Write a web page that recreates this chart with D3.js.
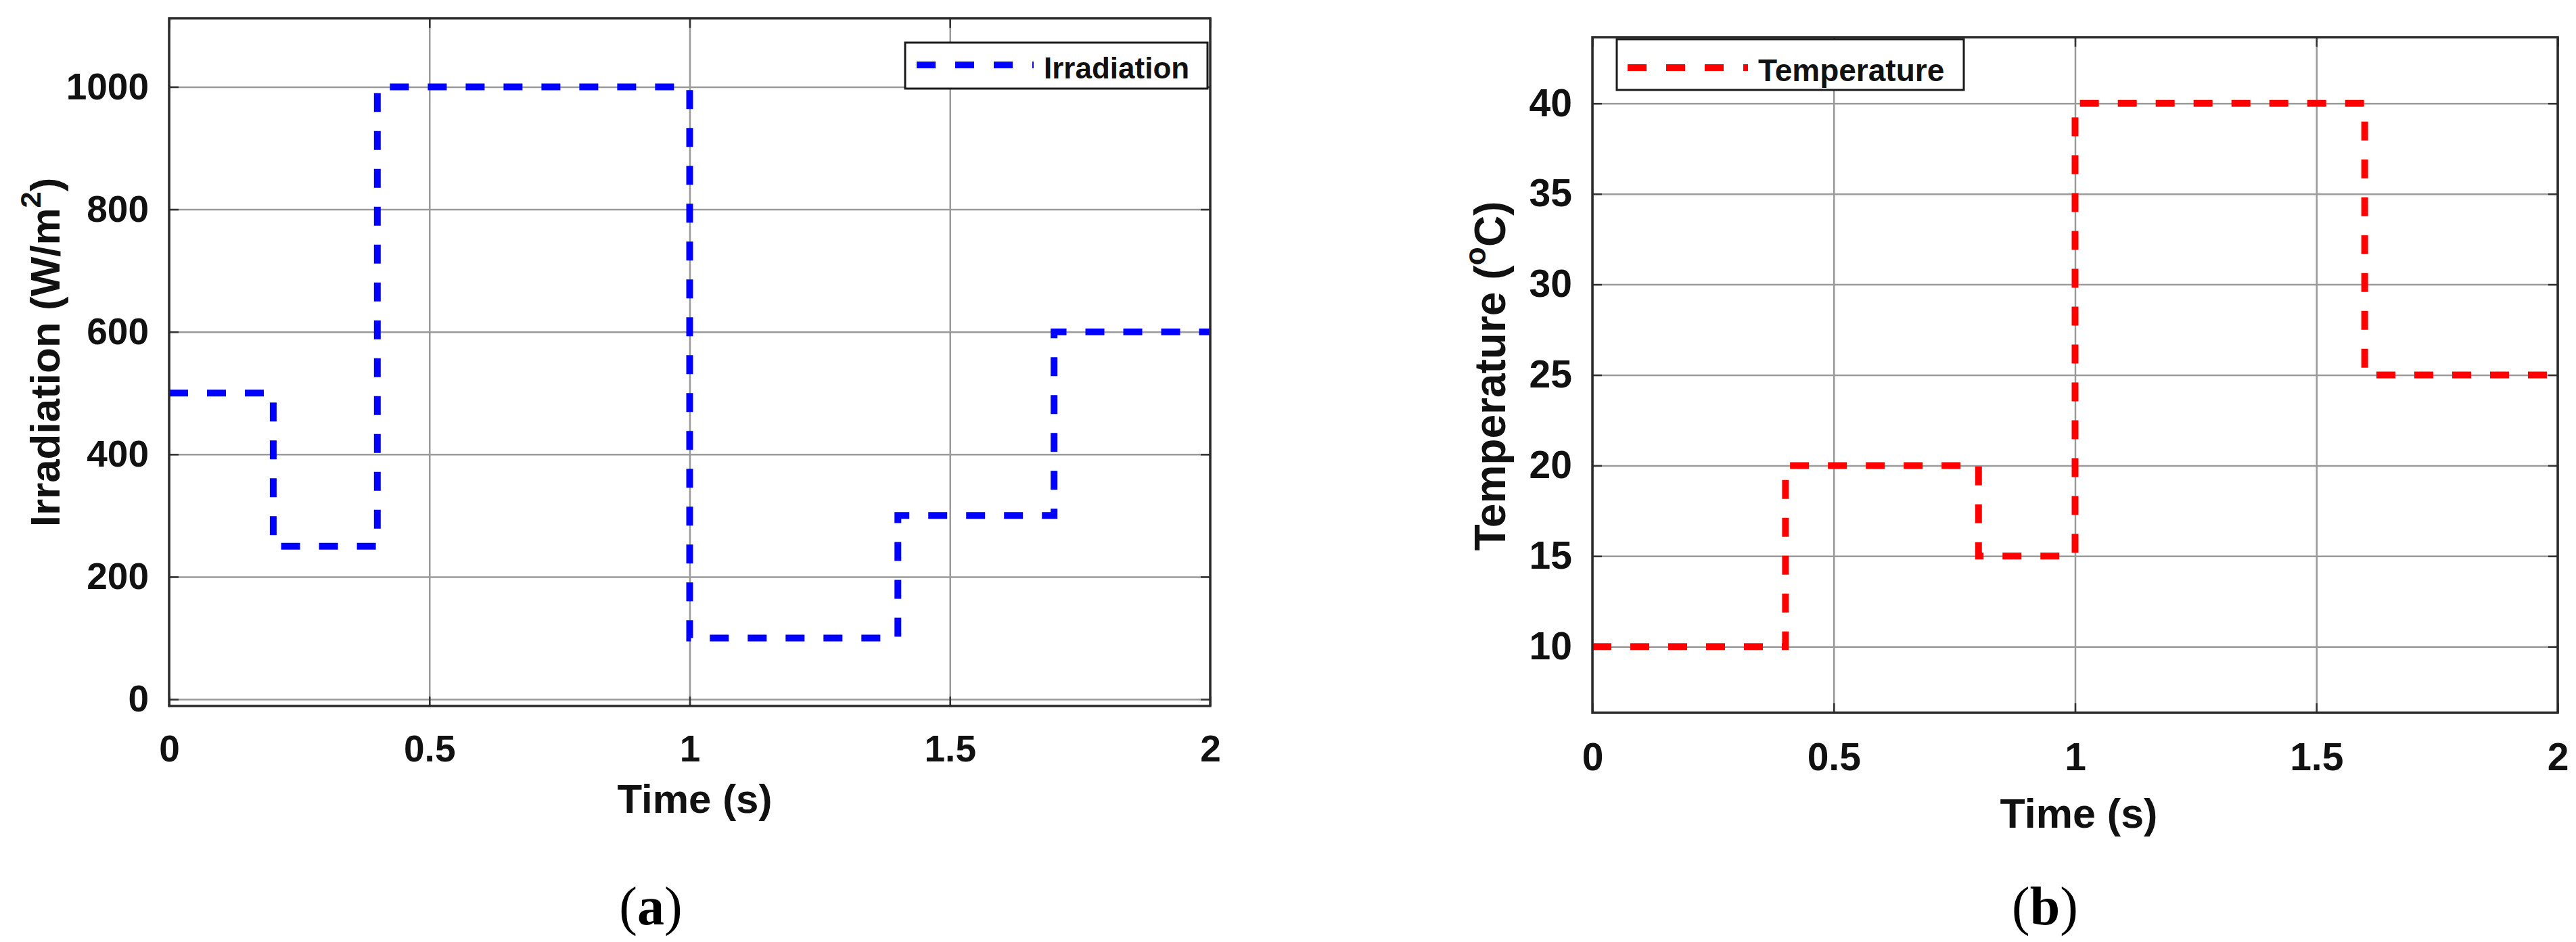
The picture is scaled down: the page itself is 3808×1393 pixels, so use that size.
<!DOCTYPE html>
<html>
<head>
<meta charset="utf-8">
<script src="https://cdn.jsdelivr.net/npm/d3@7"></script>
<style>
  html, body { margin: 0; padding: 0; background: #ffffff; }
  svg { display: block; }
</style>
</head>
<body>
<svg id="chart" width="3808" height="1393"></svg>
<script>
// ---------------- data ----------------
const timeTicks = [0, 0.5, 1, 1.5, 2];
const timeTickLabels = ["0", "0.5", "1", "1.5", "2"];

const irrTime  = [0, 0.2, 0.4, 1.0, 1.4, 1.7, 2.0];
const irrValue = [500, 250, 1000, 100, 300, 600, 600];
const irrTicks = [0, 200, 400, 600, 800, 1000];
const irrTickLabels = ["0", "200", "400", "600", "800", "1000"];

const tempTime  = [0, 0.4, 0.8, 1.0, 1.6, 2.0];
const tempValue = [10, 20, 15, 40, 25, 25];
const tempTicks = [10, 15, 20, 25, 30, 35, 40];
const tempTickLabels = ["10", "15", "20", "25", "30", "35", "40"];

const irrLegend = "Irradiation";
const tempLegend = "Temperature";
const xTitle = "Time (s)";

// ---------------- drawing ----------------
const svg = d3.select("#chart");
const SANS = "'Liberation Sans', Arial, Helvetica, sans-serif";
const SERIF = "'Liberation Serif', 'Times New Roman', serif";

function panel(cfg) {
  const x = d3.scaleLinear().domain([0, 2]).range([cfg.x0, cfg.x1]);
  const y = d3.scaleLinear().domain(cfg.yDomain).range([cfg.y1, cfg.y0]);
  const W = cfg.x1 - cfg.x0, H = cfg.y1 - cfg.y0;
  const g = svg.append("g");

  // grid lines
  g.append("g").attr("transform", `translate(0,${cfg.y1})`)
    .call(d3.axisBottom(x).tickValues(timeTicks).tickSize(-H).tickFormat(""))
    .call(s => s.select(".domain").remove())
    .call(s => s.selectAll("line").attr("stroke", "#9a9a9a").attr("stroke-width", 2.5));
  g.append("g").attr("transform", `translate(${cfg.x0},0)`)
    .call(d3.axisLeft(y).tickValues(cfg.yTicks).tickSize(-W).tickFormat(""))
    .call(s => s.select(".domain").remove())
    .call(s => s.selectAll("line").attr("stroke", "#9a9a9a").attr("stroke-width", 2.5));

  // inward tick marks on all four sides
  const tk = 14;
  const tickStyle = s => { s.select(".domain").remove(); s.selectAll("line").attr("stroke", "#333").attr("stroke-width", 2.5); };
  g.append("g").attr("transform", `translate(0,${cfg.y1})`)
    .call(d3.axisBottom(x).tickValues(timeTicks).tickSize(-tk).tickFormat("")).call(tickStyle);
  g.append("g").attr("transform", `translate(0,${cfg.y0})`)
    .call(d3.axisTop(x).tickValues(timeTicks).tickSize(-tk).tickFormat("")).call(tickStyle);
  g.append("g").attr("transform", `translate(${cfg.x0},0)`)
    .call(d3.axisLeft(y).tickValues(cfg.yTicks).tickSize(-tk).tickFormat("")).call(tickStyle);
  g.append("g").attr("transform", `translate(${cfg.x1},0)`)
    .call(d3.axisRight(y).tickValues(cfg.yTicks).tickSize(-tk).tickFormat("")).call(tickStyle);

  // tick labels
  g.append("g").attr("transform", `translate(0,${cfg.y1})`)
    .call(d3.axisBottom(x).tickValues(timeTicks).tickSize(0).tickPadding(cfg.xPad)
      .tickFormat((d, i) => timeTickLabels[i]))
    .call(s => s.select(".domain").remove())
    .call(s => s.selectAll("text").attr("fill", "#111").attr("font-family", SANS)
      .attr("font-weight", "bold").attr("font-size", cfg.tickFont));
  g.append("g").attr("transform", `translate(${cfg.x0},0)`)
    .call(d3.axisLeft(y).tickValues(cfg.yTicks).tickSize(0).tickPadding(30)
      .tickFormat((d, i) => cfg.yTickLabels[i]))
    .call(s => s.select(".domain").remove())
    .call(s => s.selectAll("text").attr("fill", "#111").attr("font-family", SANS)
      .attr("font-weight", "bold").attr("font-size", cfg.tickFont));

  // data line
  const pts = cfg.t.map((t, i) => [t, cfg.v[i]]);
  const line = d3.line().x(d => x(d[0])).y(d => y(d[1])).curve(d3.curveStepAfter);
  g.append("path").datum(pts).attr("d", line)
    .attr("fill", "none").attr("stroke", cfg.color).attr("stroke-width", 10)
    .attr("stroke-dasharray", "28,28");

  // frame
  g.append("rect").attr("x", cfg.x0).attr("y", cfg.y0).attr("width", W).attr("height", H)
    .attr("fill", "none").attr("stroke", "#2a2a2a").attr("stroke-width", 3.5);

  // axis titles
  g.append("text").attr("x", cfg.xTitleX).attr("y", cfg.xTitleY)
    .attr("text-anchor", "middle").attr("font-family", SANS).attr("font-weight", "bold")
    .attr("font-size", cfg.titleFont).attr("fill", "#111").text(xTitle);

  const yt = g.append("text")
    .attr("transform", `translate(${cfg.yTitleX},${cfg.yTitleY}) rotate(-90)`)
    .attr("text-anchor", "middle").attr("font-family", SANS).attr("font-weight", "bold")
    .attr("font-size", cfg.yTitleFont).attr("fill", "#111");
  yt.append("tspan").text(cfg.yTitle[0]);
  yt.append("tspan").attr("dy", -0.45 * cfg.yTitleFont).attr("font-size", cfg.yTitleFont * 0.7).text(cfg.yTitle[1]);
  yt.append("tspan").attr("dy", 0.45 * cfg.yTitleFont).text(cfg.yTitle[2]);

  // legend
  const L = cfg.legend;
  g.append("rect").attr("x", L.x).attr("y", L.y).attr("width", L.w).attr("height", L.h)
    .attr("fill", "#fff").attr("stroke", "#1a1a1a").attr("stroke-width", 3);
  g.append("line").attr("x1", L.lx0).attr("x2", L.lx1).attr("y1", L.ly).attr("y2", L.ly)
    .attr("stroke", cfg.color).attr("stroke-width", 10).attr("stroke-dasharray", "28,29");
  g.append("text").attr("x", L.tx).attr("y", L.ty).attr("font-family", SANS).attr("font-weight", "bold")
    .attr("font-size", L.font).attr("fill", "#111").text(L.text);

  // sub caption
  const cap = svg.append("text").attr("x", cfg.capX).attr("y", 1367).attr("text-anchor", "middle")
    .attr("font-family", SERIF).attr("font-size", 80).attr("fill", "#000");
  cap.append("tspan").text("(");
  cap.append("tspan").attr("font-weight", "bold").text(cfg.capLetter);
  cap.append("tspan").text(")");
}

panel({
  x0: 250, x1: 1789, y0: 27, y1: 1044,
  yDomain: [-11, 1112], yTicks: irrTicks, yTickLabels: irrTickLabels,
  t: irrTime, v: irrValue, color: "#0000ff",
  xPad: 43, tickFont: 55, titleFont: 60, xTitleX: 1027, xTitleY: 1202,
  yTitle: ["Irradiation (W/m", "2", ")"], yTitleX: 88, yTitleY: 521, yTitleFont: 62,
  legend: { x: 1338, y: 63, w: 447, h: 68, lx0: 1355, lx1: 1528, ly: 96,
            tx: 1543, ty: 116, font: 44, text: irrLegend },
  capX: 962, capLetter: "a"
});

panel({
  x0: 2354, x1: 3781, y0: 55, y1: 1054,
  yDomain: [6.35, 43.65], yTicks: tempTicks, yTickLabels: tempTickLabels,
  t: tempTime, v: tempValue, color: "#ff0000",
  xPad: 45, tickFont: 57, titleFont: 61, xTitleX: 3073, xTitleY: 1224,
  yTitle: ["Temperature (", "o", "C)"], yTitleX: 2225, yTitleY: 556, yTitleFont: 64,
  legend: { x: 2390, y: 58, w: 513, h: 75, lx0: 2406, lx1: 2584, ly: 100,
            tx: 2599, ty: 120, font: 46, text: tempLegend },
  capX: 3023, capLetter: "b"
});
</script>
</body>
</html>
